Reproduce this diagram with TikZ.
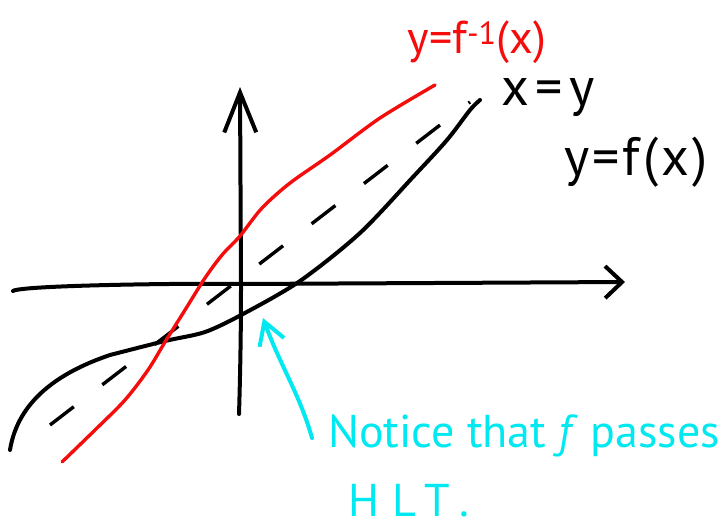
\documentclass[tikz,border=0pt]{standalone}
\usepackage{fontspec}
\setmainfont{PT Sans}
\usepackage{tikz}
\usetikzlibrary{
	positioning,
	arrows.meta,
	calc
}
\definecolor{InkRed}{RGB}{245,12,12}
\definecolor{InkCyan}{RGB}{0,232,240}
\definecolor{InkBlack}{RGB}{0,0,0}

\begin{document}
\begin{tikzpicture}[x=1pt,y=-1pt]
	
	\useasboundingbox (0,0) rectangle (728,531);
	
	\coordinate (Origin) at (241,284);
	\coordinate (XEnd) at (625,282);
	\coordinate (YEnd) at (240,87);
	
	\draw[
	line width=4pt,
	line cap=round,
	InkBlack,
	-{Straight Barb[length=17pt,width=32pt,line width=4pt]}
	] (13,291) .. controls (20,285) and (200,283) .. (Origin) -- (XEnd);
	
	\draw[
	line width=4pt,
	line cap=round,
	InkBlack,
	-{Straight Barb[length=40pt,width=32pt,line width=4pt]}
	] (239,414) .. controls (241,350) and (241,300) .. (Origin) -- (YEnd);
	
	\draw[
	line width=3.4pt,
	InkBlack,
	dash pattern=on 30pt off 36pt
	] (50,425) -- (470,102);
	
	\draw[
	line width=4pt,
	line cap=round,
	InkBlack
	] (10,450) .. controls (18,400) and (60,372) .. (110,355)
	plot[smooth] coordinates {(110,355) (165,341) (205,332) (243,314) (300,281) (360,233) (413,177) (447,140) (470,110) (480,100)};
	
	\draw[
	line width=3.4pt,
	line cap=round,
	InkRed
	] plot[smooth] coordinates {(62,462) (95,430) (125,400) (148,370) (165,342) (185,310) (205,278) (222,255) (240,236) (262,208) (290,183) (330,155) (380,118) (435,85)};
	
	\node[
	InkRed,
	font=\fontsize{46}{50}\selectfont
	] (InvLabel) at (477,42) {y=f\textsuperscript{-1}(x)};
	
	\node[
	InkBlack,
	font=\fontsize{54}{58}\selectfont\addfontfeature{LetterSpace=12}
	] (DiagLabel) at (548,98) {x=y};
	
	\node[
	InkBlack,
	font=\fontsize{54}{58}\selectfont\addfontfeature{LetterSpace=6}
	] (FLabel) at (636,162) {y=f(x)};
	
	\node[
	InkCyan,
	anchor=west,
	inner sep=0pt,
	font=\fontsize{46}{50}\selectfont
	] (Note) at (328,436) {Notice that \textit{f} passes};
	
	\node[
	InkCyan,
	anchor=north west,
	inner sep=0pt,
	font=\fontsize{46}{50}\selectfont\addfontfeature{LetterSpace=30}
	] (NoteB) at (348,484) {HLT.};
	
	\coordinate (Tip) at (263,318);
	\coordinate (Tail) at (312,438);
	
	\draw[
	line width=4pt,
	line cap=round,
	InkCyan,
	-{Straight Barb[length=22pt,width=26pt,line width=4pt]}
	] (Tail) .. controls (300,395) and (280,365) .. (Tip);
	
\end{tikzpicture}
\end{document}
